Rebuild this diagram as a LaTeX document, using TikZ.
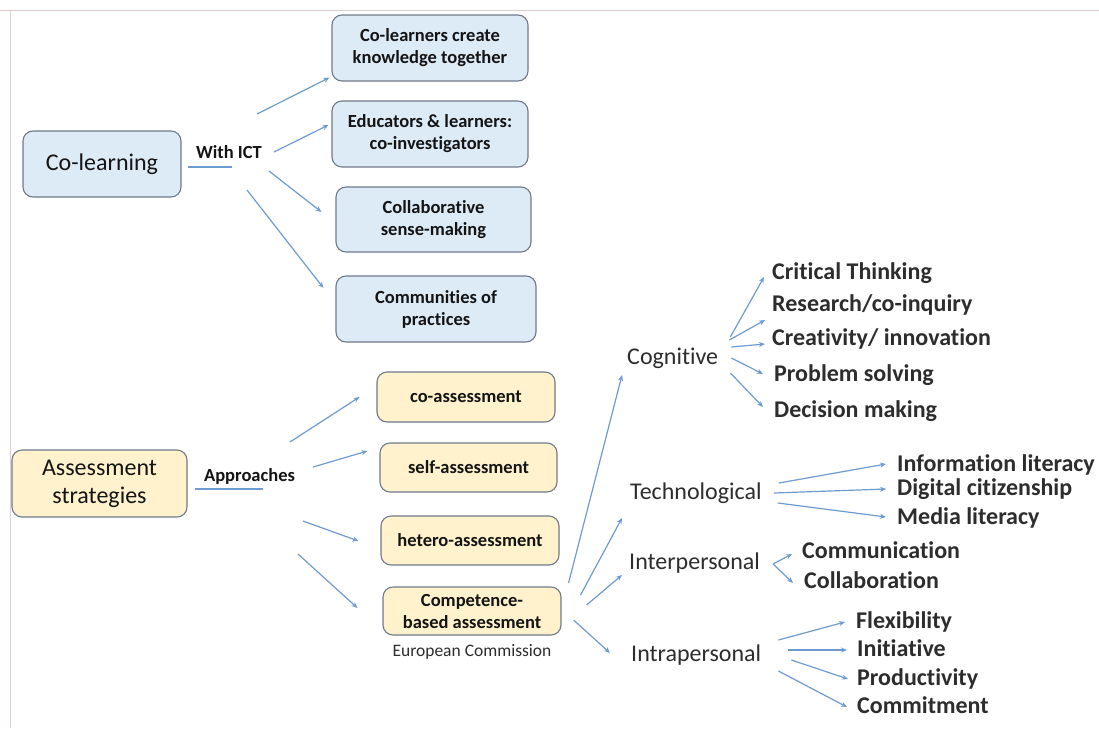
\documentclass[tikz,border=0pt]{standalone}
\usepackage{fontspec}
\setmainfont{Carlito}[Ligatures=NoCommon]
\usetikzlibrary{arrows.meta}
\definecolor{bluefill}{RGB}{221,235,247}
\definecolor{yelfill}{RGB}{255,242,204}
\definecolor{boxline}{RGB}{112,122,138}
\definecolor{arrcol}{RGB}{110,155,210}
\definecolor{txt}{RGB}{45,45,45}
\definecolor{framecol}{RGB}{225,205,205}
\begin{document}
\begin{tikzpicture}[x=1pt,y=-1pt,
 bbox/.style={draw=boxline, line width=1.1pt, rounded corners=10pt, align=center, inner sep=0pt, text=black!92, font=\fontsize{18.5}{22}\selectfont\bfseries},
 bluebox/.style={bbox, fill=bluefill, minimum height=66pt},
 yelbox/.style={bbox, fill=yelfill, minimum height=49pt},
 lbl/.style={inner sep=0pt, text=black!92, font=\fontsize{18.5}{22}\selectfont\bfseries},
 item/.style={anchor=west, inner sep=0pt, text=txt, font=\fontsize{24}{28}\selectfont\bfseries, text height=17pt, text depth=5pt},
 cat/.style={anchor=west, inner sep=0pt, text=txt, font=\fontsize{24}{28}\selectfont, text height=17pt, text depth=5pt},
 arr/.style={draw=arrcol, line width=1.2pt, -{Stealth[length=6pt,width=5pt]}},
 plain/.style={draw=arrcol, line width=1.2pt},
]
\useasboundingbox (0,0) rectangle (1099,728);
\fill[white] (0,0) rectangle (1099,728);
\draw[framecol, line width=1pt] (0,10) -- (1099,10);
\draw[framecol, line width=1pt] (10,10) -- (10,728);

% top group
\node[bluebox, minimum width=158pt, font=\fontsize{24}{28}\selectfont] (colearn) at (102,164) {Co-learning};
\node[bluebox, minimum width=196pt] (b1) at (430,48) {Co-learners create\\knowledge together};
\node[bluebox, minimum width=196pt] (b2) at (430,134) {Educators \& learners:\\co-investigators};
\node[bluebox, minimum width=195pt, minimum height=65pt] (b3) at (433.5,219.5) {Collaborative\\sense-making};
\node[bluebox, minimum width=200pt] (b4) at (436,309) {Communities of\\practices};
\node[lbl] (ict) at (229,152) {With ICT};

% bottom group
\node[yelbox, minimum width=175pt, minimum height=67pt, font=\fontsize{24}{28}\selectfont] (assess) at (99.5,483.5) {Assessment\\strategies};
\node[yelbox, minimum width=178pt, minimum height=50pt] (a1) at (466,397) {co-assessment};
\node[yelbox, minimum width=177pt] (a2) at (468.5,467.5) {self-assessment};
\node[yelbox, minimum width=178pt] (a3) at (470,540.5) {hetero-assessment};
\node[yelbox, minimum width=178pt, minimum height=48pt] (a4) at (472,611) {Competence-\\based assessment};
\node[lbl] (appr) at (249.5,476) {Approaches};
\node[inner sep=0pt, text=txt, font=\fontsize{17.5}{20}\selectfont] (ec) at (472,652) {European Commission};

% categories
\node[cat] (cog) at (627,358) {Cognitive};
\node[cat] (tech) at (630,493) {Technological};
\node[cat] (inter) at (629,563) {Interpersonal};
\node[cat] (intra) at (631,655) {Intrapersonal};

% items
\node[item] (ct) at (772,273) {Critical Thinking};
\node[item] (rc) at (772,305) {Research/co-inquiry};
\node[item] (cr) at (772,339) {Creativity/ innovation};
\node[item] (ps) at (774,375) {Problem solving};
\node[item] (dm) at (774,411) {Decision making};
\node[item] (il) at (897,465) {Information literacy};
\node[item] (dc) at (897,489) {Digital citizenship};
\node[item] (ml) at (897,518) {Media literacy};
\node[item] (cm) at (802,552) {Communication};
\node[item] (cb) at (804,582) {Collaboration};
\node[item] (fl) at (856,622) {Flexibility};
\node[item] (ini) at (857,650) {Initiative};
\node[item] (pr) at (857,679) {Productivity};
\node[item] (cmt) at (857,707) {Commitment};

% hubs
\coordinate (hl) at (232,167);
\coordinate (h1) at (257,114);
\coordinate (h2) at (274,152);
\coordinate (h3) at (269,171);
\coordinate (h4) at (247,190);
\coordinate (g0) at (263,489);
\coordinate (g1) at (290,442);
\coordinate (g2) at (313,467);
\coordinate (g3) at (303,521);
\coordinate (g4) at (298,554);

\draw[plain] ([xshift=6pt,yshift=-3pt]colearn.east) -- (hl);
\draw[arr] (h1) -- ([shift={(-2,-4)}]b1.south west);
\draw[arr] (h2) -- ([shift={(-3,-9)}]b2.west);
\draw[arr] (h3) -- ([shift={(-14,-7.5)}]b3.west);
\draw[arr] (h4) -- ([shift={(-12,-21)}]b4.west);

\draw[plain] ([xshift=7pt,yshift=-5.5pt]assess.east) -- (g0);
\draw[arr] (g1) -- ([shift={(-17,0)}]a1.west);
\draw[arr] (g2) -- ([shift={(-12,-16.5)}]a2.west);
\draw[arr] (g3) -- ([shift={(-22,0.5)}]a3.west);
\draw[arr] (g4) -- ([shift={(-25,-3)}]a4.west);

\draw[arr] ([shift={(7,-28)}]a4.east) -- ([shift={(-5,17)}]cog.west);
\draw[arr] ([shift={(19,-16)}]a4.east) -- ([shift={(-8,25)}]tech.west);
\draw[arr] ([shift={(25,-6)}]a4.east) -- ([shift={(-7,12)}]inter.west);
\draw[arr] ([shift={(12,9)}]a4.east) -- ([shift={(-21,-2)}]intra.west);

\draw[arr] ([shift={(12,-21)}]cog.east) -- ([shift={(-8,4)}]ct.west);
\draw[arr] ([shift={(11,-18)}]cog.east) -- ([shift={(-7,15)}]rc.west);
\draw[arr] ([shift={(13,-11)}]cog.east) -- ([shift={(-7,5)}]cr.west);
\draw[arr] ([shift={(13,0)}]cog.east) -- ([shift={(-11,-1)}]ps.west);
\draw[arr] ([shift={(12,15)}]cog.east) -- ([shift={(-11,-4)}]dm.west);

\draw[arr] ([shift={(17,-10)}]tech.east) -- ([shift={(-11,-1)}]il.west);
\draw[arr] ([shift={(12,0)}]tech.east) -- ([shift={(-11,0)}]dc.west);
\draw[arr] ([shift={(16,10)}]tech.east) -- ([shift={(-11,-1)}]ml.west);

\draw[arr] ([shift={(13,1)}]inter.east) -- ([shift={(-10,2)}]cm.west);
\draw[arr] ([shift={(13,1)}]inter.east) -- ([shift={(-11,1)}]cb.west);

\draw[arr] ([shift={(17,-15)}]intra.east) -- ([shift={(-11,0)}]fl.west);
\draw[arr] ([shift={(27,-5)}]intra.east) -- ([shift={(-10,0)}]ini.west);
\draw[arr] ([shift={(30,5)}]intra.east) -- ([shift={(-9,0)}]pr.west);
\draw[arr] ([shift={(17,16)}]intra.east) -- ([shift={(-10,0)}]cmt.west);
\end{tikzpicture}
\end{document}
